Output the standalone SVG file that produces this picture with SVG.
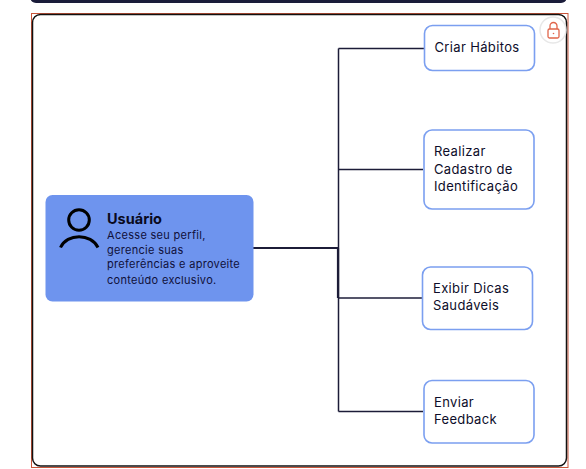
<svg xmlns="http://www.w3.org/2000/svg" width="586" height="469" viewBox="0 0 586 469">
<style>
.box{fill:#fff;stroke:#7b9ff0;stroke-width:1.6}
.t{font-family:Inter,"Liberation Sans",sans-serif;font-size:13px;letter-spacing:.35px;fill:#0d0d2a}
.c{fill:none;stroke:#1c1c38;stroke-width:1.5}
.h{fill:none;stroke:#1c1c38;stroke-width:2.2}
.d{font-family:Inter,"Liberation Sans",sans-serif;font-size:11px;letter-spacing:.3px;fill:#10103a}
</style>
<rect width="586" height="469" fill="#fff"/>
<rect x="30" y="-12" width="537" height="15" rx="6" fill="#1a1c3a"/>
<rect id="frame-outer" x="31.500" y="13.500" width="536.500" height="454" fill="none" stroke="#c9553a" stroke-width="1"/>
<rect id="frame" x="32.500" y="14.500" width="534" height="451.500" rx="8" fill="#fff" stroke="#111" stroke-width="1.500"/>
<g id="connectors">
<path class="c" d="M338.500 48.500V411.500"/>
<path class="c" d="M338.500 48.500H424"/>
<path class="c" d="M338.500 169.500H423"/>
<path class="h" d="M253 248H339"/>
<path class="h" d="M338 248V298"/>
<path class="c" d="M338.500 298H422"/>
<path class="c" d="M338.500 411.500H423"/>
</g>
<g id="node-usuario">
<rect x="45.500" y="195" width="208" height="106.500" rx="7" fill="#6e94ee"/>
<circle cx="79" cy="220" r="10.300" fill="none" stroke="#000" stroke-width="3"/>
<path d="M60.500 247.500C67 233 91 233 98 247.500" fill="none" stroke="#000" stroke-width="3"/>
<text x="107" y="224" font-family="Inter,'Liberation Sans',sans-serif" font-size="14.500px" font-weight="700" fill="#0a0a20">Usuário</text>
<text class="d" x="107" y="239">Acesse seu perfil,</text>
<text class="d" x="107" y="254">gerencie suas</text>
<text class="d" x="107" y="268">preferências e aproveite</text>
<text class="d" x="107" y="283.500">conteúdo exclusivo.</text>
</g>
<g id="node-criar">
<rect class="box" x="424.500" y="25.500" width="110" height="45" rx="8"/>
<text class="t" x="434.500" y="52">Criar Hábitos</text>
</g>
<g id="node-realizar">
<rect class="box" x="424" y="130" width="110" height="79" rx="8"/>
<text class="t" x="434" y="156">Realizar</text>
<text class="t" x="434" y="174">Cadastro de</text>
<text class="t" x="434" y="191">Identificação</text>
</g>
<g id="node-exibir">
<rect class="box" x="422.500" y="267" width="110" height="62.500" rx="8"/>
<text class="t" x="433" y="293">Exibir Dicas</text>
<text class="t" x="433" y="310">Saudáveis</text>
</g>
<g id="node-enviar">
<rect class="box" x="424" y="380.500" width="110" height="62.500" rx="8"/>
<text class="t" x="434" y="407">Enviar</text>
<text class="t" x="434" y="424">Feedback</text>
</g>
<g id="lock">
<circle cx="553" cy="30" r="13" fill="#fff" stroke="#e8e8e8" stroke-width="1.500"/>
<rect x="548" y="29" width="11" height="9" rx="1.500" fill="none" stroke="#e0654a" stroke-width="1.300"/>
<path d="M550 29V26a3.500 3.500 0 0 1 7 0V29" fill="none" stroke="#e0654a" stroke-width="1.300"/>
<circle cx="553.500" cy="33.500" r="0.800" fill="#e0654a"/>
</g>
</svg>
